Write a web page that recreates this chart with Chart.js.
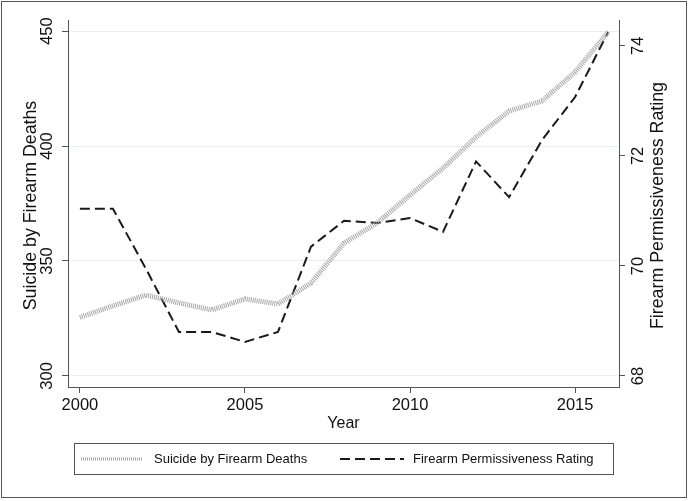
<!DOCTYPE html>
<html>
<head>
<meta charset="utf-8">
<script src="https://cdn.jsdelivr.net/npm/chart.js"></script>
<style>
  html, body { margin: 0; padding: 0; background: #fff; }
  #wrap { position: relative; width: 688px; height: 501px; }
  #frame {
    position: absolute; left: 1px; top: 1px; width: 686px; height: 497px;
    box-sizing: border-box; border: 1.5px solid #555; pointer-events: none;
  }
</style>
</head>
<body>
<div id="wrap">
  <canvas id="chart"></canvas>
  <div id="frame"></div>
</div>
<script>
// datos
const years = [2000, 2001, 2002, 2003, 2004, 2005, 2006, 2007, 2008, 2009, 2010, 2011, 2012, 2013, 2014, 2015, 2016];
const suicideDeaths = [325.5, 330.5, 335.2, 331.8, 328.7, 333.5, 331.3, 340.4, 357.8, 366.5, 378.7, 390.4, 403.9, 415.2, 419.6, 432.2, 449.6];
const permissiveness = [71.04, 71.04, 69.95, 68.8, 68.8, 68.62, 68.8, 70.35, 70.82, 70.78, 70.87, 70.62, 71.9, 71.25, 72.29, 73.07, 74.25];
const xTicks = [2000, 2005, 2010, 2015];
const leftTicks = [300, 350, 400, 450];
const rightTicks = [68, 70, 72, 74];

const FONT = '"Liberation Sans", Arial, Helvetica, sans-serif';
const AXIS = '#555';

function toPoints(vals) {
    return years.map((y, i) => ({ x: y, y: vals[i] }));
}

// etiquetas de los ejes Y giradas (estilo Stata) y leyenda con marco
const stataPlugin = {
    id: 'stata',
    afterDraw(chart) {
        const ctx = chart.ctx;
        const area = chart.chartArea;
        ctx.save();
        ctx.fillStyle = '#111';
        ctx.textAlign = 'center';
        ctx.textBaseline = 'middle';

        const drawRot = (text, x, y) => {
            ctx.save();
            ctx.translate(x, y);
            ctx.rotate(-Math.PI / 2);
            ctx.fillText(text, 0, 0);
            ctx.restore();
        };

        ctx.font = '16.5px ' + FONT;
        const yL = chart.scales.y;
        yL.ticks.forEach(t => drawRot(String(t.value), 47, yL.getPixelForValue(t.value)));
        const yR = chart.scales.y1;
        yR.ticks.forEach(t => drawRot(String(t.value), 638, yR.getPixelForValue(t.value)));

        ctx.font = '17.8px ' + FONT;
        const midY = (area.top + area.bottom) / 2 + 2;
        drawRot('Suicide by Firearm Deaths', 31, midY);
        drawRot('Firearm Permissiveness Rating', 658, midY);

        // leyenda
        const box = { left: 74, top: 443, right: 613, bottom: 474 };
        ctx.strokeStyle = AXIS;
        ctx.lineWidth = 1;
        ctx.strokeRect(box.left + 0.5, box.top + 0.5, box.right - box.left, box.bottom - box.top);
        const ly = (box.top + box.bottom) / 2 + 0.5;
        const items = [
            { x0: 81, x1: 143, tx: 154, width: 3 },
            { x0: 340, x1: 404, tx: 413, width: 2 }
        ];
        chart.data.datasets.forEach((ds, i) => {
            const it = items[i];
            ctx.save();
            ctx.strokeStyle = ds.borderColor;
            ctx.lineWidth = it.width;
            ctx.setLineDash(ds.borderDash || []);
            ctx.beginPath();
            ctx.moveTo(it.x0, ly);
            ctx.lineTo(it.x1, ly);
            ctx.stroke();
            ctx.restore();
            ctx.fillStyle = '#111';
            ctx.font = '13px ' + FONT;
            ctx.textAlign = 'left';
            ctx.fillText(ds.label, it.tx, ly);
        });
        ctx.restore();
    }
};

new Chart(document.getElementById('chart'), {
    type: 'line',
    data: {
        datasets: [{
            label: 'Suicide by Firearm Deaths',
            data: toPoints(suicideDeaths),
            yAxisID: 'y',
            borderColor: '#a6a6a6',
            borderWidth: 5,
            borderDash: [1, 1],
            borderCapStyle: 'butt',
            pointRadius: 0,
            tension: 0
        }, {
            label: 'Firearm Permissiveness Rating',
            data: toPoints(permissiveness),
            yAxisID: 'y1',
            borderColor: '#1a1a1a',
            borderWidth: 2,
            borderDash: [10, 5],
            pointRadius: 0,
            tension: 0
        }]
    },
    options: {
        responsive: true,
        maintainAspectRatio: false,
        animation: false,
        layout: { padding: { left: 0, right: 0, top: 20, bottom: 68 } },
        plugins: {
            legend: { display: false },
            tooltip: { enabled: false }
        },
        scales: {
            x: {
                type: 'linear',
                min: 1999.64,
                max: 2016.33,
                afterBuildTicks: s => { s.ticks = xTicks.map(v => ({ value: v })); },
                afterFit: s => { s.height = 46; },
                border: { color: AXIS, width: 1 },
                grid: { drawOnChartArea: false, tickLength: 6, tickColor: AXIS },
                ticks: {
                    color: '#111',
                    font: { family: FONT, size: 16.5 },
                    padding: 3,
                    maxRotation: 0,
                    callback: v => String(v)
                },
                title: {
                    display: true,
                    text: 'Year',
                    color: '#111',
                    font: { family: FONT, size: 16 },
                    padding: { top: 0, bottom: 0 }
                }
            },
            y: {
                position: 'left',
                min: 295.2,
                max: 454.8,
                afterBuildTicks: s => { s.ticks = leftTicks.map(v => ({ value: v })); },
                afterFit: s => { s.width = 68; },
                border: { color: AXIS, width: 1 },
                grid: { color: '#e6f0f0', tickLength: 6, tickColor: AXIS },
                ticks: { display: false }
            },
            y1: {
                position: 'right',
                min: 67.8,
                max: 74.47,
                afterBuildTicks: s => { s.ticks = rightTicks.map(v => ({ value: v })); },
                afterFit: s => { s.width = 69; },
                border: { color: AXIS, width: 1 },
                grid: { drawOnChartArea: false, tickLength: 6, tickColor: AXIS },
                ticks: { display: false }
            }
        }
    },
    plugins: [stataPlugin]
});
</script>
</body>
</html>
